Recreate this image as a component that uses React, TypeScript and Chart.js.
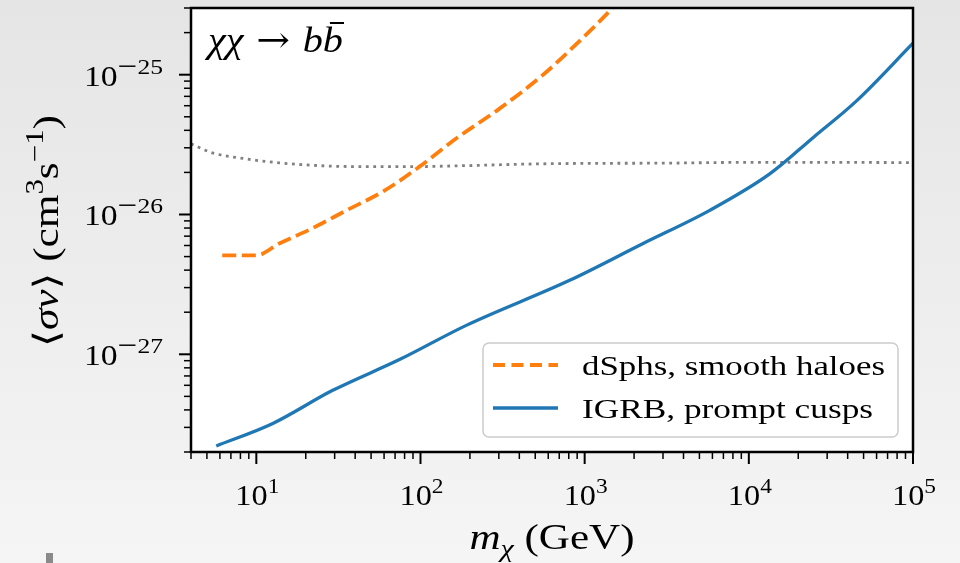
import { useEffect, useRef } from 'react';
import { Chart, registerables } from 'chart.js';

Chart.register(...registerables);

// dSphs limits, smooth haloes (GeV, cm^3 s^-1)
const massDSph = [6.2, 10, 13.8, 21.6, 35.4, 60.3, 98.6, 168, 303, 570, 906, 1462, 1633];
const sigmaDSph = [5.1e-27, 5.1e-27, 6.2e-27, 7.9e-27, 1.07e-26, 1.48e-26, 2.2e-26, 3.55e-26, 5.72e-26, 1.02e-25, 1.69e-25, 2.96e-25, 3.43e-25];

// IGRB limits, prompt cusps
const massIGRB = [5.7, 12.6, 29, 75, 190, 810, 2270, 5780, 13400, 24700, 45300, 100000];
const sigmaIGRB = [2.21e-28, 3.2e-28, 5.5e-28, 9.2e-28, 1.61e-27, 3.38e-27, 6.2e-27, 1.07e-26, 1.95e-26, 3.56e-26, 6.5e-26, 1.68e-25];

// thermal relic cross section
const massRelic = [4, 5.4, 8.65, 13.8, 28, 50, 90, 200, 500, 1000, 3000, 10000, 30000, 100000];
const sigmaRelic = [3.2e-26, 2.76e-26, 2.5e-26, 2.34e-26, 2.22e-26, 2.2e-26, 2.2e-26, 2.24e-26, 2.3e-26, 2.32e-26, 2.33e-26, 2.36e-26, 2.36e-26, 2.35e-26];

const xMajorTicks = [10, 100, 1000, 10000, 100000];
const xTickExponents = ['1', '2', '3', '4', '5'];
const yMajorTicks = [1e-25, 1e-26, 1e-27];
const yTickExponents = ['25', '26', '27'];

const legendLabels = ['dSphs, smooth haloes', 'IGRB, prompt cusps'];

const X_MIN = 4;
const X_MAX = 1e5;
const Y_MIN = 2e-28;
const Y_MAX = 3e-25;

const ORANGE = '#ff7f0e';
const BLUE = '#1f77b4';
const GRAY = '#808080';

const SERIF = '"Liberation Serif", "DejaVu Serif", serif';
const R = (px: number) => `${px}px ${SERIF}`;
const I = (px: number) => `italic ${px}px ${SERIF}`;

type Run = { t: string; f: string; dy?: number };

function runsWidth(ctx: CanvasRenderingContext2D, runs: Run[]) {
  let w = 0;
  for (const r of runs) {
    ctx.font = r.f;
    w += ctx.measureText(r.t).width;
  }
  return w;
}

// Draws a sequence of text runs (mixed fonts / super- and subscripts).
// Returns the canvas-space start and width of every run.
function drawRuns(
  ctx: CanvasRenderingContext2D,
  runs: Run[],
  x: number,
  y: number,
  align: 'left' | 'center' | 'right',
  target?: number,
) {
  const w = runsWidth(ctx, runs);
  const s = target ? target / w : 1;
  const tw = w * s;
  const x0 = align === 'left' ? x : align === 'center' ? x - tw / 2 : x - tw;
  const out: { x: number; w: number }[] = [];
  ctx.save();
  ctx.textAlign = 'left';
  ctx.textBaseline = 'alphabetic';
  ctx.translate(x0, y);
  ctx.scale(s, 1);
  let cx = 0;
  for (const r of runs) {
    ctx.font = r.f;
    const rw = ctx.measureText(r.t).width;
    ctx.fillText(r.t, cx, r.dy || 0);
    out.push({ x: x0 + cx * s, w: rw * s });
    cx += rw;
  }
  ctx.restore();
  return out;
}

function minorTicks(lo: number, hi: number, decades: number[]) {
  const out: number[] = [];
  for (const d of decades) {
    for (let k = 2; k <= 9; k++) {
      const v = k * d;
      if (v >= lo * 0.999 && v <= hi * 1.001) out.push(v);
    }
  }
  return out;
}

const backgroundPlugin = {
  id: 'figureBackground',
  beforeDraw(chart: any) {
    const { ctx, width, height, chartArea } = chart;
    ctx.save();
    const g = ctx.createLinearGradient(0, 0, 0, height);
    g.addColorStop(0, '#e5e5e5');
    g.addColorStop(1, '#f5f5f5');
    ctx.fillStyle = g;
    ctx.fillRect(0, 0, width, height);
    ctx.fillStyle = '#ffffff';
    ctx.fillRect(chartArea.left, chartArea.top, chartArea.right - chartArea.left, chartArea.bottom - chartArea.top);
    ctx.fillStyle = '#8a8a8a';
    ctx.fillRect(46, 553, 7, 10);
    ctx.restore();
  },
};

const axesPlugin = {
  id: 'texAxes',
  afterDraw(chart: any) {
    const { ctx, chartArea } = chart;
    const xs = chart.scales.x;
    const ys = chart.scales.y;
    const { left, right, top, bottom } = chartArea;
    ctx.save();
    ctx.fillStyle = '#000';
    ctx.strokeStyle = '#000';

    // tick marks
    const tick = (x1: number, y1: number, x2: number, y2: number, lw: number) => {
      ctx.lineWidth = lw;
      ctx.beginPath();
      ctx.moveTo(x1, y1);
      ctx.lineTo(x2, y2);
      ctx.stroke();
    };
    for (const v of xMajorTicks) {
      const px = xs.getPixelForValue(v);
      tick(px, bottom, px, bottom + 12, 2);
    }
    for (const v of minorTicks(X_MIN, X_MAX, [1, 10, 100, 1000, 10000])) {
      const px = xs.getPixelForValue(v);
      tick(px, bottom, px, bottom + 7, 1.5);
    }
    for (const v of yMajorTicks) {
      const py = ys.getPixelForValue(v);
      tick(left, py, left - 12, py, 2);
    }
    for (const v of minorTicks(Y_MIN, Y_MAX, [1e-28, 1e-27, 1e-26, 1e-25])) {
      const py = ys.getPixelForValue(v);
      tick(left, py, left - 7, py, 1.5);
    }

    // frame
    ctx.lineWidth = 2.5;
    ctx.strokeRect(left, top, right - left, bottom - top);

    // tick labels
    xMajorTicks.forEach((v, i) => {
      const px = xs.getPixelForValue(v);
      drawRuns(
        ctx,
        [{ t: '10', f: R(29) }, { t: xTickExponents[i], f: R(21), dy: -12 }],
        px + 1,
        505,
        'center',
        44,
      );
    });
    yMajorTicks.forEach((v, i) => {
      const py = ys.getPixelForValue(v);
      drawRuns(
        ctx,
        [
          { t: '10', f: R(29) },
          { t: '−', f: R(30), dy: -10 },
          { t: yTickExponents[i], f: R(22), dy: -12 },
        ],
        163,
        py + 11,
        'right',
        79,
      );
    });

    // axis titles
    drawRuns(
      ctx,
      [{ t: 'm', f: I(36) }, { t: 'χ', f: I(25), dy: 8 }, { t: ' (GeV)', f: R(36) }],
      (left + right) / 2,
      549,
      'center',
      165,
    );
    ctx.save();
    ctx.translate(58, (top + bottom) / 2 + 1);
    ctx.rotate(-Math.PI / 2);
    drawRuns(
      ctx,
      [
        { t: '⟨', f: R(35) },
        { t: 'σv', f: I(35) },
        { t: '⟩', f: R(35) },
        { t: ' (cm', f: R(35) },
        { t: '3', f: R(25), dy: -15 },
        { t: 's', f: R(35) },
        { t: '−1', f: R(25), dy: -15 },
        { t: ')', f: R(35) },
      ],
      0,
      0,
      'center',
      232,
    );
    ctx.restore();

    // channel annotation
    const pos = drawRuns(
      ctx,
      [
        { t: 'χχ', f: I(36) },
        { t: ' → ', f: `36px "DejaVu Serif", serif` },
        { t: 'b', f: I(36) },
        { t: 'b', f: I(36) },
      ],
      208,
      52,
      'left',
      135,
    );
    const lb = pos[3];
    ctx.lineWidth = 2;
    ctx.beginPath();
    ctx.moveTo(lb.x + lb.w * 0.35, 23);
    ctx.lineTo(lb.x + lb.w * 1.05, 23);
    ctx.stroke();

    // legend
    ctx.beginPath();
    ctx.roundRect(483, 343, 415, 94, 6);
    ctx.fillStyle = 'rgba(255,255,255,0.8)';
    ctx.fill();
    ctx.lineWidth = 1.5;
    ctx.strokeStyle = '#cccccc';
    ctx.stroke();

    const entries = [
      { color: ORANGE, dash: [12, 6.5], width: 3.8, y: 365, target: 303 },
      { color: BLUE, dash: [], width: 3.3, y: 408, target: 291 },
    ];
    entries.forEach((e, i) => {
      ctx.save();
      ctx.strokeStyle = e.color;
      ctx.lineWidth = e.width;
      ctx.setLineDash(e.dash);
      ctx.beginPath();
      ctx.moveTo(493, e.y);
      ctx.lineTo(558, e.y);
      ctx.stroke();
      ctx.restore();
      ctx.fillStyle = '#000';
      drawRuns(ctx, [{ t: legendLabels[i], f: R(28) }], 582, e.y + 10, 'left', e.target);
    });

    ctx.restore();
  },
};

const toPoints = (xs: number[], ys: number[]) => xs.map((x, i) => ({ x, y: ys[i] }));

export default function App() {
  const ref = useRef<HTMLCanvasElement>(null);

  useEffect(() => {
    document.body.style.margin = '0';
    const canvas = ref.current!;
    const chart = new Chart(canvas, {
      type: 'line',
      data: {
        datasets: [
          {
            label: legendLabels[1],
            data: toPoints(massIGRB, sigmaIGRB),
            borderColor: BLUE,
            borderWidth: 3.3,
            pointRadius: 0,
            cubicInterpolationMode: 'monotone',
            fill: false,
          },
          {
            label: legendLabels[0],
            data: toPoints(massDSph, sigmaDSph),
            borderColor: ORANGE,
            borderWidth: 3.8,
            borderDash: [14, 5.6],
            pointRadius: 0,
            cubicInterpolationMode: 'monotone',
            fill: false,
          },
          {
            label: 'thermal relic',
            data: toPoints(massRelic, sigmaRelic),
            borderColor: GRAY,
            borderWidth: 2.8,
            borderDash: [2.8, 4.6],
            pointRadius: 0,
            cubicInterpolationMode: 'monotone',
            fill: false,
          },
        ],
      },
      options: {
        animation: false,
        responsive: false,
        devicePixelRatio: 1,
        events: [],
        layout: { padding: { top: 8, right: 47, left: 0, bottom: 0 } },
        plugins: {
          legend: { display: false },
          tooltip: { enabled: false },
        },
        scales: {
          x: {
            type: 'logarithmic',
            min: X_MIN,
            max: X_MAX,
            grid: { display: false },
            border: { display: false },
            ticks: { display: false },
            afterFit: (s: any) => {
              s.height = 111;
            },
          },
          y: {
            type: 'logarithmic',
            min: Y_MIN,
            max: Y_MAX,
            grid: { display: false },
            border: { display: false },
            ticks: { display: false },
            afterFit: (s: any) => {
              s.width = 191;
            },
          },
        },
      },
      plugins: [backgroundPlugin, axesPlugin],
    });
    return () => chart.destroy();
  }, []);

  return <canvas ref={ref} width={960} height={563} style={{ display: 'block' }} />;
}
